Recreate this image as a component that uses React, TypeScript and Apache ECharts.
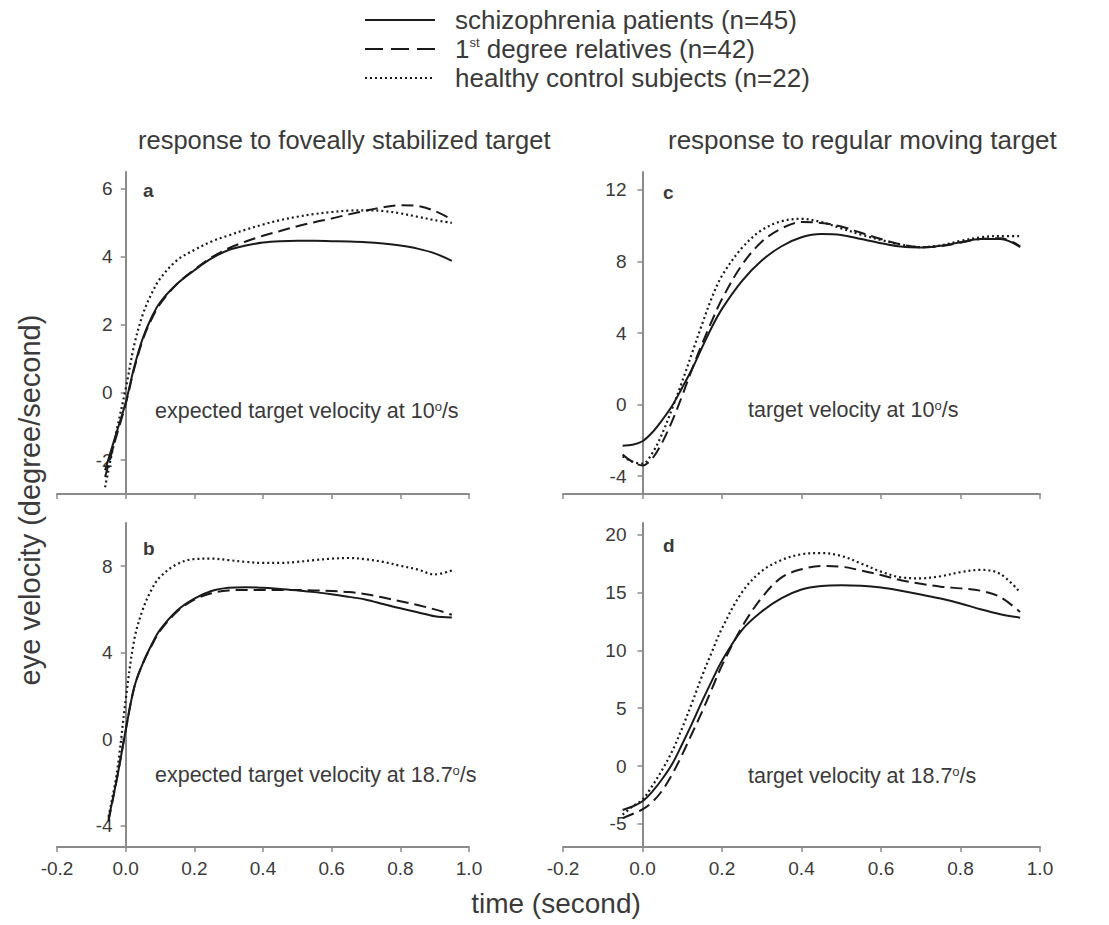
import React, { useEffect, useRef } from "react";
import * as echarts from "echarts";

// ---------- data ----------
const X_TICK_MIN = -0.2;
const X_TICK_MAX = 1.0;
const X_TICK_STEP = 0.2;

const SERIES_NAMES = [
  "schizophrenia patients (n=45)",
  "1st degree relatives (n=42)",
  "healthy control subjects (n=22)",
];

// panel a: foveally stabilized, 10 deg/s
const T_A = [-0.06, -0.03, 0, 0.025, 0.05, 0.075, 0.1, 0.15, 0.2, 0.25, 0.3, 0.35, 0.4, 0.45, 0.5, 0.55, 0.6, 0.65, 0.7, 0.75, 0.8, 0.85, 0.9, 0.95];
const A_SCHIZ = [-2.3, -1.3, -0.3, 0.75, 1.6, 2.2, 2.65, 3.2, 3.6, 3.95, 4.2, 4.33, 4.42, 4.46, 4.47, 4.47, 4.46, 4.45, 4.43, 4.39, 4.33, 4.24, 4.1, 3.88];
const A_REL = [-2.5, -1.4, -0.35, 0.7, 1.55, 2.15, 2.6, 3.2, 3.62, 3.98, 4.25, 4.45, 4.62, 4.76, 4.9, 5.02, 5.13, 5.25, 5.36, 5.46, 5.52, 5.5, 5.35, 5.1];
const A_CTRL = [-2.8, -1.3, 0.1, 1.4, 2.3, 2.9, 3.35, 3.9, 4.2, 4.45, 4.63, 4.8, 4.95, 5.08, 5.18, 5.26, 5.32, 5.36, 5.37, 5.35, 5.28, 5.18, 5.08, 5.0];

// panel b: foveally stabilized, 18.7 deg/s
const T_B = [-0.05, -0.025, 0, 0.025, 0.05, 0.075, 0.1, 0.15, 0.2, 0.25, 0.3, 0.35, 0.4, 0.45, 0.5, 0.55, 0.6, 0.65, 0.7, 0.75, 0.8, 0.85, 0.9, 0.95];
const B_SCHIZ = [-3.7, -1.8, 0.4, 2.4, 3.5, 4.35, 5.05, 5.95, 6.5, 6.85, 7.0, 7.03, 7.0, 6.95, 6.88, 6.8, 6.7, 6.58, 6.45, 6.25, 6.05, 5.87, 5.68, 5.62];
const B_REL = [-3.8, -1.8, 0.4, 2.4, 3.5, 4.3, 5.0, 5.9, 6.45, 6.75, 6.88, 6.9, 6.9, 6.9, 6.9, 6.88, 6.85, 6.8, 6.7, 6.55, 6.38, 6.2, 6.0, 5.75];
const B_CTRL = [-3.6, -1.5, 1.8, 4.6, 6.0, 6.9, 7.5, 8.1, 8.33, 8.35, 8.28, 8.2, 8.15, 8.15, 8.2, 8.28, 8.35, 8.38, 8.32, 8.2, 8.02, 7.85, 7.62, 7.8];

// panel c: regular moving, 10 deg/s
const T_C = [-0.05, -0.025, 0, 0.025, 0.05, 0.075, 0.1, 0.125, 0.15, 0.175, 0.2, 0.25, 0.3, 0.35, 0.4, 0.45, 0.5, 0.55, 0.6, 0.65, 0.7, 0.75, 0.8, 0.85, 0.9, 0.95];
const C_SCHIZ = [-2.3, -2.25, -2.05, -1.55, -0.85, -0.05, 0.95, 2.0, 3.2, 4.35, 5.35, 6.9, 8.05, 8.85, 9.35, 9.53, 9.48, 9.25, 9.02, 8.83, 8.78, 8.88, 9.07, 9.25, 9.25, 8.8];
const C_REL = [-2.8, -3.2, -3.4, -3.0, -2.1, -0.9, 0.5, 2.0, 3.4, 4.7, 5.9, 7.8, 9.1, 9.85, 10.2, 10.15, 9.95, 9.6, 9.25, 8.95, 8.8, 8.85, 9.05, 9.25, 9.3, 8.85];
const C_CTRL = [-2.9, -3.2, -3.3, -2.7, -1.6, -0.2, 1.3, 2.9, 4.5, 6.0, 7.2, 8.75, 9.75, 10.25, 10.38, 10.2, 9.85, 9.5, 9.2, 8.95, 8.8, 8.9, 9.15, 9.35, 9.42, 9.42];

// panel d: regular moving, 18.7 deg/s
const T_D = [-0.05, -0.025, 0, 0.025, 0.05, 0.075, 0.1, 0.125, 0.15, 0.175, 0.2, 0.25, 0.3, 0.35, 0.4, 0.45, 0.5, 0.55, 0.6, 0.65, 0.7, 0.75, 0.8, 0.85, 0.9, 0.95];
const D_SCHIZ = [-3.8, -3.5, -3.05, -2.2, -1.1, 0.2, 1.9, 3.7, 5.6, 7.4, 9.1, 11.75, 13.35, 14.5, 15.25, 15.55, 15.62, 15.57, 15.42, 15.15, 14.83, 14.47, 14.05, 13.55, 13.12, 12.82];
const D_REL = [-4.5, -4.15, -3.75, -3.1, -2.1, -0.7, 1.0, 2.85, 4.7, 6.7, 8.7, 12.0, 14.55, 16.3, 17.0, 17.28, 17.22, 16.9, 16.5, 16.05, 15.75, 15.5, 15.35, 15.15, 14.6, 13.3];
const D_CTRL = [-4.2, -3.5, -2.9, -1.7, -0.3, 1.3, 3.3, 5.5, 7.8, 9.9, 11.9, 15.0, 16.85, 17.8, 18.3, 18.4, 18.15, 17.5, 16.8, 16.3, 16.22, 16.4, 16.75, 16.95, 16.6, 15.0];

// y-axis ranges and tick labels
const Y_RANGE_A = [-3, 6.5];
const Y_RANGE_B = [-5, 10];
const Y_RANGE_C = [-5, 13];
const Y_RANGE_D = [-7, 21];
const Y_TICKS_A = [-2, 0, 2, 4, 6];
const Y_TICKS_B = [-4, 0, 4, 8];
const Y_TICKS_C = [-4, 0, 4, 8, 12];
const Y_TICKS_D = [-5, 0, 5, 10, 15, 20];

// ---------- styles ----------
const FONT = "'Liberation Sans', Arial, Helvetica, sans-serif";
const TEXT = "#3a3a3a";
const AXIS = "#8a8a8a";
const INK = "#1a1a1a";
const DASH = [12, 6];
const DOT = [2, 3];

const GRIDS = [
  { left: 57, top: 172, width: 412, height: 322 },
  { left: 57, top: 523, width: 412, height: 324 },
  { left: 563, top: 172, width: 477, height: 322 },
  { left: 563, top: 523, width: 477, height: 324 },
];
const SHOW_X_LABELS = [false, true, false, true];
const Y_LABEL_MARGIN = [13, 13, 16, 16];

const PANELS = [
  { t: T_A, s: [A_SCHIZ, A_REL, A_CTRL], range: Y_RANGE_A, ticks: Y_TICKS_A },
  { t: T_B, s: [B_SCHIZ, B_REL, B_CTRL], range: Y_RANGE_B, ticks: Y_TICKS_B },
  { t: T_C, s: [C_SCHIZ, C_REL, C_CTRL], range: Y_RANGE_C, ticks: Y_TICKS_C },
  { t: T_D, s: [D_SCHIZ, D_REL, D_CTRL], range: Y_RANGE_D, ticks: Y_TICKS_D },
];

const LINE_TYPES: any[] = ["solid", DASH, DOT];

const SUP_RICH = {
  sup: { fontSize: 13, fontFamily: FONT, fill: TEXT, color: TEXT, verticalAlign: "top", lineHeight: 12 },
};

function txt(text: string, x: number, y: number, size: number, extra: any = {}) {
  return {
    type: "text",
    x,
    y,
    silent: true,
    rotation: extra.rotation || 0,
    style: {
      text,
      fontSize: size,
      fontFamily: FONT,
      fontWeight: extra.weight || "normal",
      fill: TEXT,
      align: extra.align || "left",
      verticalAlign: "middle",
      textAlign: extra.align || "left",
      textVerticalAlign: "middle",
      rich: SUP_RICH,
    },
  };
}

export default function App() {
  const ref = useRef<HTMLDivElement>(null);

  useEffect(() => {
    document.body.style.margin = "0";
    if (!ref.current) return;
    const chart = echarts.init(ref.current, undefined, { renderer: "svg" });

    const xAxis = GRIDS.map((_, i) => ({
      type: "value",
      gridIndex: i,
      min: X_TICK_MIN,
      max: X_TICK_MAX,
      interval: X_TICK_STEP,
      splitLine: { show: false },
      axisLine: { show: true, onZero: false, lineStyle: { color: AXIS, width: 2 } },
      axisTick: { show: true, inside: false, length: 5, lineStyle: { color: AXIS, width: 1.5 } },
      axisLabel: {
        show: SHOW_X_LABELS[i],
        fontSize: 19,
        fontFamily: FONT,
        color: TEXT,
        margin: 12,
        formatter: (v: number) => (Math.abs(v) < 1e-9 ? 0 : v).toFixed(1),
      },
    }));

    const yAxis = PANELS.map((p, i) => {
      const g = GRIDS[i];
      const zeroOffset = (g.width * (0 - X_TICK_MIN)) / (X_TICK_MAX - X_TICK_MIN);
      return {
        type: "value",
        gridIndex: i,
        min: p.range[0],
        max: p.range[1],
        position: "left",
        offset: -zeroOffset,
        splitLine: { show: false },
        axisLine: { show: true, onZero: false, lineStyle: { color: AXIS, width: 2 } },
        axisTick: {
          show: true,
          inside: false,
          length: 5,
          customValues: p.ticks,
          lineStyle: { color: AXIS, width: 1.5 },
        },
        axisLabel: {
          fontSize: 19,
          fontFamily: FONT,
          color: TEXT,
          margin: Y_LABEL_MARGIN[i],
          customValues: p.ticks,
        },
      };
    });

    const series: any[] = [];
    PANELS.forEach((p, i) => {
      p.s.forEach((vals, k) => {
        series.push({
          type: "line",
          name: SERIES_NAMES[k],
          xAxisIndex: i,
          yAxisIndex: i,
          data: p.t.map((t, j) => [t, vals[j]]),
          showSymbol: false,
          symbol: "none",
          smooth: 0.35,
          silent: true,
          z: 3 - k,
          lineStyle: { color: INK, width: k === 2 ? 2.2 : 2, type: LINE_TYPES[k] },
        });
      });
    });

    const legendRows = [20, 49, 78];
    const legendGraphics: any[] = [];
    legendRows.forEach((y, k) => {
      legendGraphics.push({
        type: "line",
        silent: true,
        shape: { x1: 365, y1: y, x2: 435, y2: y },
        style: {
          stroke: INK,
          lineWidth: k === 2 ? 2.2 : 2,
          lineDash: k === 0 ? null : k === 1 ? [18, 8] : DOT,
        },
      });
    });
    legendGraphics.push(txt("schizophrenia patients (n=45)", 455, legendRows[0], 26));
    legendGraphics.push(txt("1{sup|st} degree relatives (n=42)", 455, legendRows[1], 26));
    legendGraphics.push(txt("healthy control subjects (n=22)", 455, legendRows[2], 26));

    const graphic: any[] = [
      ...legendGraphics,
      txt("response to foveally stabilized target", 138, 140, 25.5),
      txt("response to regular moving target", 668, 140, 26),
      txt("a", 143, 190, 19, { weight: "bold" }),
      txt("b", 143, 548, 19, { weight: "bold" }),
      txt("c", 663, 192, 19, { weight: "bold" }),
      txt("d", 663, 545, 19, { weight: "bold" }),
      txt("expected target velocity at 10{sup|o}/s", 155, 411, 21.5),
      txt("expected target velocity at 18.7{sup|o}/s", 155, 775, 21.5),
      txt("target velocity at 10{sup|o}/s", 748, 410, 21.5),
      txt("target velocity at 18.7{sup|o}/s", 748, 776, 21.5),
      txt("time (second)", 556, 903, 28, { align: "center" }),
      txt("eye velocity (degree/second)", 30, 500, 29, { align: "center", rotation: Math.PI / 2 }),
    ];

    chart.setOption({
      animation: false,
      backgroundColor: "#ffffff",
      grid: GRIDS.map((g) => ({ ...g, containLabel: false })),
      xAxis,
      yAxis,
      series,
      graphic,
    });

    return () => chart.dispose();
  }, []);

  return <div ref={ref} style={{ width: 1109, height: 925 }} />;
}
